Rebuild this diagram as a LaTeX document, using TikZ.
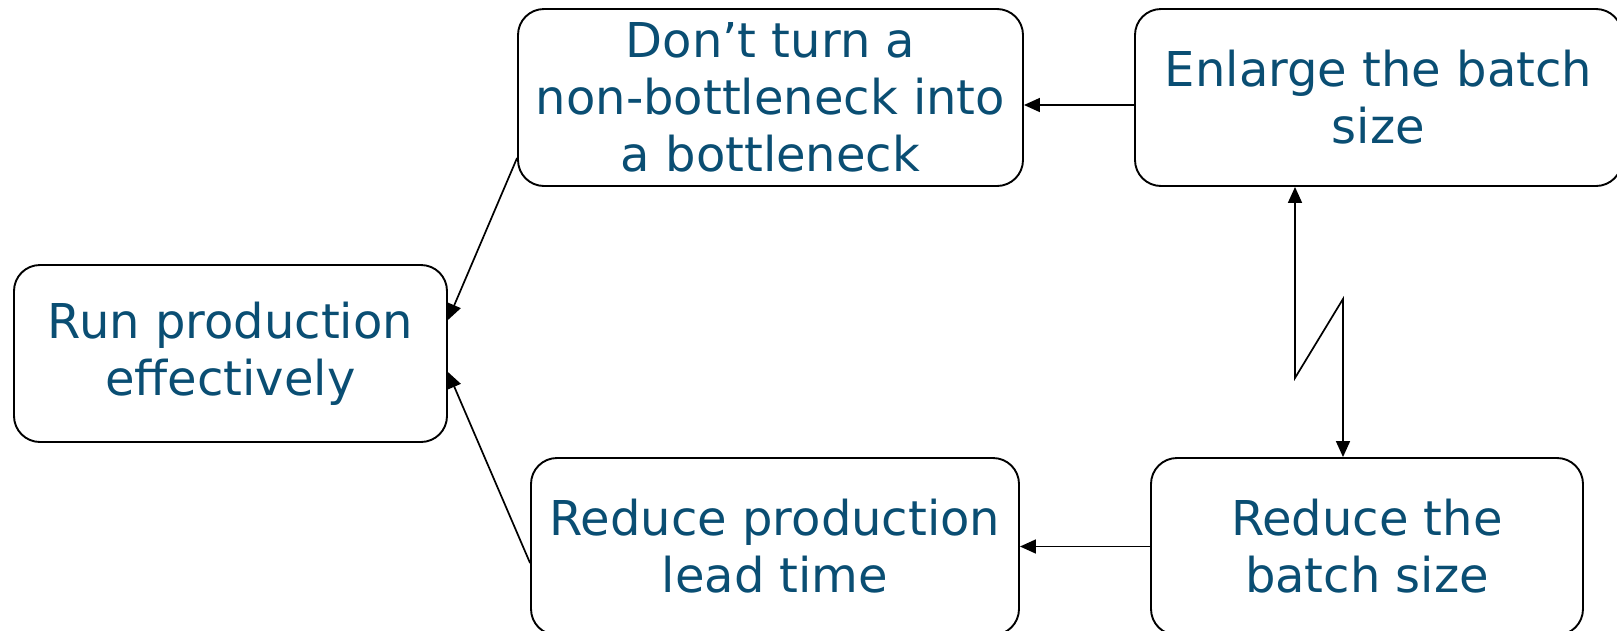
\documentclass[tikz,border=0pt]{standalone}
\usepackage{fontspec}
\setmainfont{DejaVu Sans}
\usetikzlibrary{arrows.meta}
\definecolor{txtblue}{RGB}{10,78,115}
\tikzset{
  box/.style={draw=black, line width=1.9pt, rounded corners=26pt, inner sep=0pt,
    align=center, text=txtblue, font=\fontsize{48}{57}\selectfont,
    minimum height=177pt},
  conn/.style={draw=black, line width=1.7pt, -{Triangle[length=16pt,width=14pt]}},
  conn2/.style={draw=black, line width=1.7pt, {Triangle[length=16pt,width=14pt]}-{Triangle[length=16pt,width=14pt]}}
}
\begin{document}
\begin{tikzpicture}[x=1pt,y=-1pt]
\useasboundingbox (0,0) rectangle (1617,630);
\fill[white] (0,0) rectangle (1617,630);
\node[box, minimum width=433pt] (run) at (230.5,353.5) {Run production\\effectively};
\node[box, minimum width=505pt] (dont) at (770.5,97.5) {Don’t turn a\\non-bottleneck into\\a bottleneck};
\node[box, minimum width=487pt] (enl) at (1378.5,97.5) {Enlarge the batch\\size};
\node[box, minimum width=488pt] (lead) at (775,546.5) {Reduce production\\lead time};
\node[box, minimum width=432pt] (red) at (1367,546.5) {Reduce the\\batch size};
\draw[conn] ([yshift=-7.5pt]enl.west) -- ([yshift=-7.5pt]dont.east);
\draw[conn] (red.west) -- (lead.west -| lead.east);
\draw[conn] ([yshift=-60.5pt]dont.west) -- ([yshift=33.5pt]run.east);
\draw[conn] ([yshift=-16.5pt]lead.west) -- ([yshift=-18.5pt]run.east);
\draw[conn2] ([xshift=-83.5pt]enl.south) -- ++(0,191) -- ++(48,-79) -- ([xshift=-24pt]red.north);
\end{tikzpicture}
\end{document}
